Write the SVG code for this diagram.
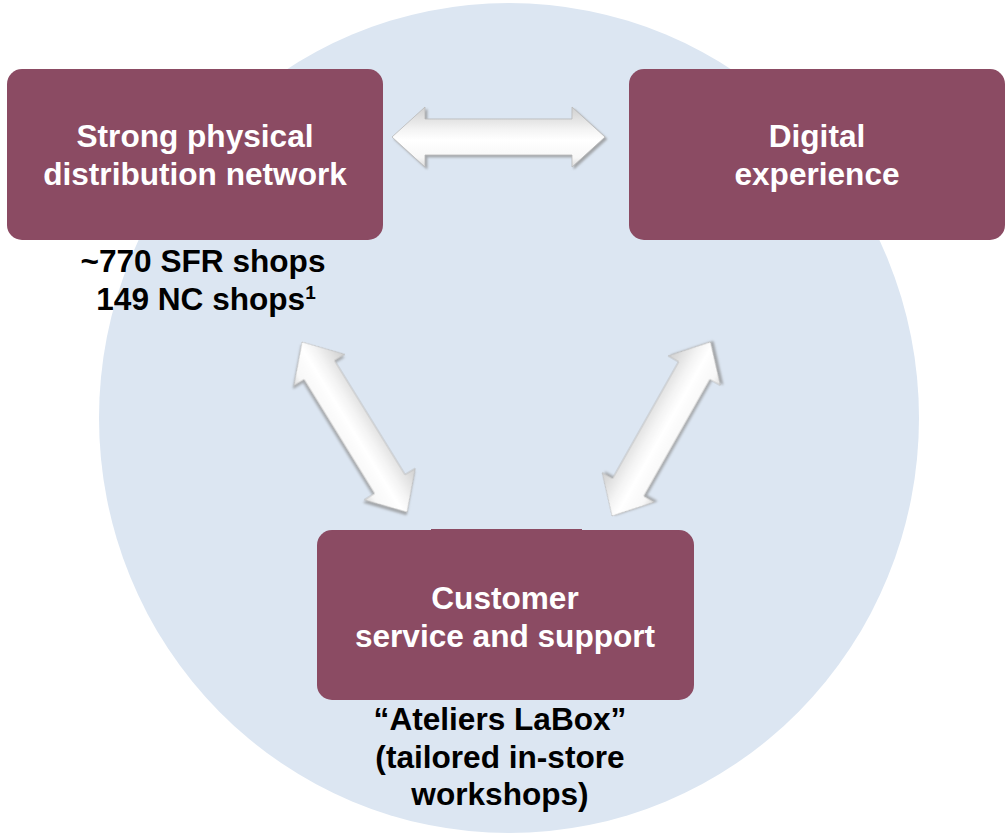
<svg xmlns="http://www.w3.org/2000/svg" width="1006" height="834" viewBox="0 0 1006 834">
  <style>
    .box { fill: #8b4b63; }
    .lbl { font-family: "Liberation Sans", Arial, sans-serif; font-weight: bold; font-size: 31.6px; text-anchor: middle; }
    .white { fill: #ffffff; }
    .dark { fill: #000000; }
    .arrow { fill: url(#bevel); stroke: #b9b9b9; stroke-width: 0.8; filter: url(#shade); }
  </style>
  <defs>
    <!-- soft bevel across the arrow body -->
    <linearGradient id="bevel" gradientUnits="userSpaceOnUse" x1="0" y1="-30" x2="0" y2="30">
      <stop offset="0" stop-color="#cfcfcf"/>
      <stop offset="0.38" stop-color="#f4f4f4"/>
      <stop offset="0.55" stop-color="#ffffff"/>
      <stop offset="0.85" stop-color="#f7f7f7"/>
      <stop offset="1" stop-color="#dadada"/>
    </linearGradient>
    <filter id="shade" x="-20%" y="-40%" width="140%" height="180%">
      <feGaussianBlur in="SourceAlpha" stdDeviation="1.2"/>
      <feOffset dx="1.5" dy="1.5" result="b"/>
      <feFlood flood-color="#8a8a8a" flood-opacity="0.7"/>
      <feComposite in2="b" operator="in"/>
      <feMerge>
        <feMergeNode/>
        <feMergeNode in="SourceGraphic"/>
      </feMerge>
    </filter>
    <!-- double-headed block arrows, drawn along +x from the origin -->
    <path id="dbl200" d="M0,0 L33,-30 L33,-18 L167,-18 L167,-30 L200,0 L167,30 L167,18 L33,18 L33,30 Z"/>
    <path id="dbl213" d="M0,0 L33,-30 L33,-18 L180,-18 L180,-30 L213,0 L180,30 L180,18 L33,18 L33,30 Z"/>
  </defs>

  <rect width="1006" height="834" fill="#ffffff"/>

  <!-- background disc -->
  <ellipse id="disc" cx="509" cy="418" rx="410" ry="415" fill="#dce6f2"/>

  <!-- connectors -->
  <g id="connectors">
    <use href="#dbl213" class="arrow" transform="translate(392,137)"/>
    <use href="#dbl200" class="arrow" transform="translate(302,342) rotate(58.3)"/>
    <use href="#dbl200" class="arrow" transform="translate(612,516) rotate(-60.5)"/>
  </g>

  <!-- node: physical network -->
  <g id="node-physical">
    <rect class="box" x="7" y="69" width="376" height="171" rx="15"/>
    <text class="lbl white" x="195" y="147">Strong physical</text>
    <text class="lbl white" x="195" y="185">distribution network</text>
    <text class="lbl dark" x="203" y="272">~770 SFR shops</text>
    <text class="lbl dark" x="206" y="310">149 NC shops<tspan font-size="19" dy="-11">1</tspan></text>
  </g>

  <!-- node: digital -->
  <g id="node-digital">
    <rect class="box" x="629" y="69" width="376" height="171" rx="15"/>
    <text class="lbl white" x="817" y="147">Digital</text>
    <text class="lbl white" x="817" y="185">experience</text>
  </g>

  <!-- node: customer service -->
  <g id="node-service">
    <rect class="box" x="317" y="530" width="377" height="170" rx="15"/>
    <rect class="box" x="431" y="529" width="151" height="3"/>
    <text class="lbl white" x="505" y="609">Customer</text>
    <text class="lbl white" x="505" y="647">service and support</text>
    <text class="lbl dark" x="500" y="730">“Ateliers LaBox”</text>
    <text class="lbl dark" x="500" y="768">(tailored in-store</text>
    <text class="lbl dark" x="500" y="805">workshops)</text>
  </g>
</svg>
